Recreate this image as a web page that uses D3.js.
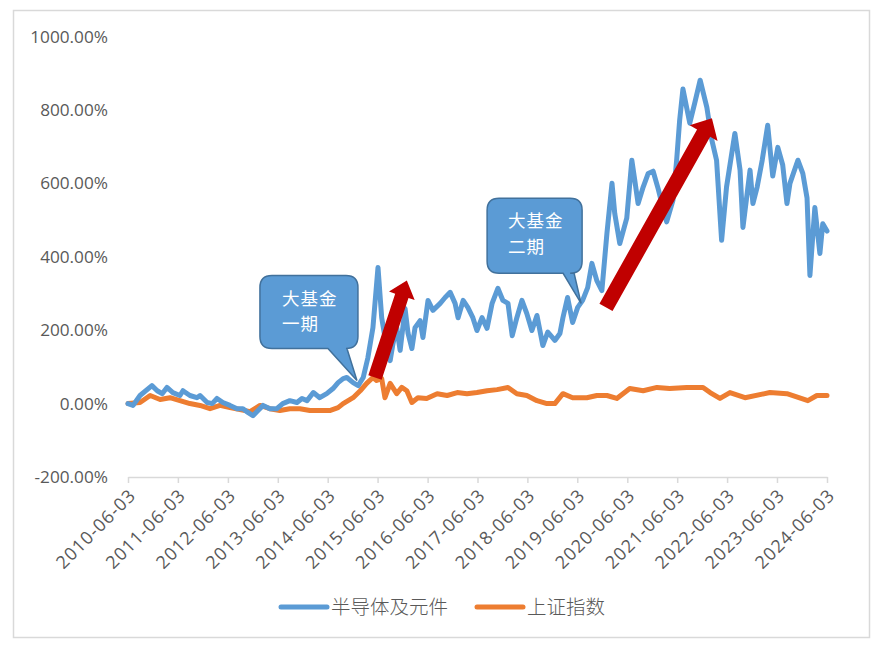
<!DOCTYPE html>
<html><head><meta charset="utf-8">
<script src="https://cdn.jsdelivr.net/npm/d3@7"></script>
<style>
html,body{margin:0;padding:0;background:#fff;}
svg{display:block;}
</style></head>
<body>
<svg id="c" width="883" height="648"></svg>
<script>
const xTickLabels = ["2010-06-03","2011-06-03","2012-06-03","2013-06-03","2014-06-03","2015-06-03","2016-06-03","2017-06-03","2018-06-03","2019-06-03","2020-06-03","2021-06-03","2022-06-03","2023-06-03","2024-06-03"];
const yTicks = [-200,0,200,400,600,800,1000];
const seriesNames = ["半导体及元件","上证指数"];

const semiSeries = [
["2010-06-03",0],["2010-07-10",-5],["2010-08-30",22],["2010-11-25",49],["2011-01-03",35],["2011-02-08",27],["2011-03-15",44],["2011-04-27",30],["2011-06-18",22],["2011-07-10",35],["2011-08-30",22],["2011-10-20",16],["2011-11-12",22],["2012-01-03",3],["2012-02-09",0],["2012-03-15",14],["2012-04-27",3],["2012-06-18",-5],["2012-08-09",-14],["2012-09-21",-14],["2012-10-27",-24],["2012-12-03",-33],["2013-01-09",-19],["2013-02-15",-5],["2013-04-06",-14],["2013-05-27",-14],["2013-07-09",0],["2013-08-30",8],["2013-10-21",3],["2013-11-27",14],["2014-01-03",8],["2014-02-18",30],["2014-04-06",16],["2014-05-27",27],["2014-07-12",41],["2014-08-18",57],["2014-09-24",68],["2014-10-21",71],["2014-12-06",57],["2015-01-12",49],["2015-02-18",71],["2015-03-24",125],["2015-04-30",207],["2015-06-06",371],["2015-07-03",234],["2015-07-27",180],["2015-09-03",117],["2015-09-24",164],["2015-10-21",207],["2015-11-15",145],["2015-12-21",259],["2016-01-12",191],["2016-02-09",150],["2016-03-03",207],["2016-04-09",226],["2016-04-30",180],["2016-06-06",281],["2016-07-12",254],["2016-09-03",273],["2016-10-09",289],["2016-11-15",303],["2016-12-21",273],["2017-01-12",234],["2017-02-18",281],["2017-03-24",262],["2017-04-30",234],["2017-05-30",199],["2017-07-06",234],["2017-08-12",205],["2017-09-18",273],["2017-10-30",314],["2017-12-06",281],["2018-01-12",273],["2018-02-12",185],["2018-03-18",234],["2018-04-24",281],["2018-05-30",245],["2018-07-06",199],["2018-08-12",240],["2018-09-24",158],["2018-10-30",195],["2018-12-21",172],["2019-01-27",191],["2019-02-18",234],["2019-03-24",289],["2019-04-30",221],["2019-06-06",262],["2019-07-12",281],["2019-08-18",316],["2019-09-18",382],["2019-10-24",335],["2019-11-30",308],["2020-01-06",464],["2020-02-12",600],["2020-03-03",518],["2020-04-09",436],["2020-05-30",505],["2020-07-06",663],["2020-07-27",610],["2020-08-21",545],["2020-09-27",590],["2020-11-03",627],["2020-12-09",633],["2021-01-15",585],["2021-02-21",530],["2021-03-18",495],["2021-05-03",554],["2021-05-30",663],["2021-06-21",772],["2021-07-15",857],["2021-09-03",764],["2021-10-10",820],["2021-11-18",881],["2022-01-06",807],["2022-02-12",717],["2022-03-18",663],["2022-04-24",445],["2022-05-30",590],["2022-07-30",736],["2022-09-06",636],["2022-09-27",480],["2022-11-18",636],["2022-12-09",545],["2023-01-09",590],["2023-02-15",663],["2023-03-27",758],["2023-05-03",620],["2023-06-09",698],["2023-07-15",650],["2023-08-15",545],["2023-09-06",600],["2023-11-03",663],["2023-12-09",627],["2024-01-09",560],["2024-01-30",349],["2024-03-06",534],["2024-04-12",409],["2024-05-03",490],["2024-06-03",470]
];

const shSeries = [
["2010-06-03",0],["2010-08-30",3],["2010-11-12",22],["2011-01-24",11],["2011-04-06",16],["2011-06-18",8],["2011-08-30",0],["2011-11-12",-5],["2012-01-24",-14],["2012-04-06",-5],["2012-06-18",-11],["2012-08-30",-16],["2012-11-12",-22],["2013-01-24",-5],["2013-04-06",-14],["2013-06-18",-19],["2013-08-30",-14],["2013-11-12",-14],["2014-01-24",-19],["2014-04-06",-19],["2014-06-18",-19],["2014-08-18",-11],["2014-09-24",0],["2014-12-06",16],["2015-01-27",35],["2015-03-15",55],["2015-04-30",71],["2015-05-27",63],["2015-07-03",68],["2015-07-27",16],["2015-09-03",55],["2015-10-21",27],["2015-11-27",44],["2016-01-03",35],["2016-02-09",3],["2016-03-24",16],["2016-05-27",14],["2016-08-12",27],["2016-10-24",22],["2017-01-06",30],["2017-03-18",27],["2017-05-30",30],["2017-08-12",35],["2017-10-24",38],["2018-01-12",44],["2018-03-18",27],["2018-05-30",22],["2018-08-12",8],["2018-10-24",0],["2018-12-21",0],["2019-02-18",27],["2019-04-30",16],["2019-08-12",16],["2019-10-24",22],["2020-01-06",22],["2020-03-18",14],["2020-06-21",41],["2020-09-27",35],["2021-01-06",44],["2021-04-09",41],["2021-08-12",44],["2021-12-09",44],["2022-01-30",30],["2022-04-12",14],["2022-06-24",30],["2022-10-12",16],["2023-04-12",30],["2023-08-15",27],["2024-01-15",8],["2024-03-21",22],["2024-06-03",22]
];

// annotations: callout text lines, arrow start/end in data coords
const callouts = [
  {lines:["大基金","一期"], tip:["2015-01-03",63]},
  {lines:["大基金","二期"], tip:["2019-07-01",273]}
];
const arrows = [
  {from:["2015-05-15",71], to:["2016-01-03",335]},
  {from:["2019-12-30",262], to:["2022-02-12",777]}
];

(function(){
const parse = d3.timeParse("%Y-%m-%d");
const svg = d3.select("#c");
const mL = 128, mR = 827, mT = 36.5, mB = 477;
const fontLat = "'Open Sans', 'Liberation Sans', sans-serif";
const fontCJK = "'Noto Sans CJK SC', sans-serif";
const grey = "#595959";

svg.append("rect").attr("x",13.5).attr("y",10.5).attr("width",856).attr("height",627)
  .attr("fill","#fff").attr("stroke","#D9D9D9").attr("stroke-width",1.5);

const x = d3.scaleTime().domain([parse(xTickLabels[0]), parse(xTickLabels[xTickLabels.length-1])]).range([mL,mR]);
const y = d3.scaleLinear().domain([-200,1000]).range([mB, mT]);
const pct = d3.formatLocale({decimal:".",thousands:"",grouping:[3],currency:["",""],minus:"-"}).format(".2f");

// y labels
svg.append("g").selectAll("text").data(yTicks).join("text")
  .attr("x",108).attr("y",d=>y(d)).attr("dy","0.35em")
  .attr("text-anchor","end").attr("font-family",fontLat).attr("font-size",17.2)
  .attr("fill",grey).text(d=>pct(d)+"%");

// x axis
const xAxis = d3.axisBottom(x).tickValues(xTickLabels.map(parse)).tickSize(6).tickSizeOuter(0).tickFormat(d3.timeFormat("%Y-%m-%d"));
const gx = svg.append("g").attr("transform",`translate(0,${mB})`).call(xAxis);
gx.select(".domain").attr("stroke","#D9D9D9").attr("stroke-width",1.5);
gx.selectAll(".tick line").attr("stroke","#D9D9D9").attr("stroke-width",1.5);
gx.selectAll(".tick text")
  .attr("font-family",fontLat).attr("font-size",18).attr("letter-spacing",1).attr("fill",grey)
  .attr("text-anchor","end").attr("dy","0.35em")
  .attr("transform","translate(4,15) rotate(-45)").attr("x",0).attr("y",0);

// lines
const line = d3.line().x(d=>x(parse(d[0]))).y(d=>y(d[1])).curve(d3.curveLinear);
svg.append("path").datum(shSeries).attr("d",line).attr("fill","none")
  .attr("stroke","#ED7D31").attr("stroke-width",5).attr("stroke-linejoin","round").attr("stroke-linecap","round");
svg.append("path").datum(semiSeries).attr("d",line).attr("fill","none")
  .attr("stroke","#5B9BD5").attr("stroke-width",5).attr("stroke-linejoin","round").attr("stroke-linecap","round");

// arrows
function arrowPath(x1,y1,x2,y2,shaftW,headW,headL){
  const dx=x2-x1, dy=y2-y1, L=Math.hypot(dx,dy);
  const ux=dx/L, uy=dy/L, px=-uy, py=ux;
  const bx=x2-ux*headL, by=y2-uy*headL;
  const s=shaftW/2, h=headW/2;
  const pts=[[x1+px*s,y1+py*s],[bx+px*s,by+py*s],[bx+px*h,by+py*h],[x2,y2],[bx-px*h,by-py*h],[bx-px*s,by-py*s],[x1-px*s,y1-py*s]];
  return "M"+pts.map(p=>p.join(",")).join("L")+"Z";
}
const arrowDims = [[14,27,16],[15,32,17]];
arrows.forEach((a,i)=>{
  svg.append("path").attr("d",arrowPath(x(parse(a.from[0])),y(a.from[1]),x(parse(a.to[0])),y(a.to[1]),...arrowDims[i]))
    .attr("fill","#C00000");
});

// callouts (box geometry relative to tip, in px)
const boxGeo = [
  {bx:-97,by:-105,bw:98,bh:73,t1:-29,t2:-10,tx:-75},
  {bx:-94,by:-105,bw:95,bh:75,t1:-18,t2:-7,tx:-73}
];
callouts.forEach((c,i)=>{
  const tx=x(parse(c.tip[0])), ty=y(c.tip[1]);
  const g=boxGeo[i];
  const X0=tx+g.bx, Y0=ty+g.by, X1=X0+g.bw, Y1=Y0+g.bh, r=12;
  const p=`M${X0+r},${Y0}H${X1-r}Q${X1},${Y0} ${X1},${Y0+r}V${Y1-r}Q${X1},${Y1} ${X1-r},${Y1}`+
    `H${tx+g.t2}L${tx},${ty}L${tx+g.t1},${Y1}H${X0+r}Q${X0},${Y1} ${X0},${Y1-r}V${Y0+r}Q${X0},${Y0} ${X0+r},${Y0}Z`;
  svg.append("path").attr("d",p).attr("fill","#5B9BD5").attr("stroke","#41719C").attr("stroke-width",1.5);
  c.lines.forEach((s,j)=>{
    svg.append("text").attr("font-family",fontCJK).attr("font-size",17.5).attr("letter-spacing",1).attr("fill","#fff")
      .attr("x",tx+g.tx).attr("y",Y0+23+j*25.5).attr("dy","0.35em").text(s);
  });
});

// legend
const legend = [{name:seriesNames[0],color:"#5B9BD5",x:281},{name:seriesNames[1],color:"#ED7D31",x:477}];
legend.forEach(l=>{
  svg.append("line").attr("x1",l.x).attr("x2",l.x+46).attr("y1",607).attr("y2",607)
    .attr("stroke",l.color).attr("stroke-width",5).attr("stroke-linecap","round");
  svg.append("text").attr("x",l.x+50).attr("y",607).attr("dy","0.35em")
    .attr("font-family",fontCJK).attr("font-size",19.5).attr("font-weight",300).attr("fill",grey).text(l.name);
});
})();
</script>
</body></html>
